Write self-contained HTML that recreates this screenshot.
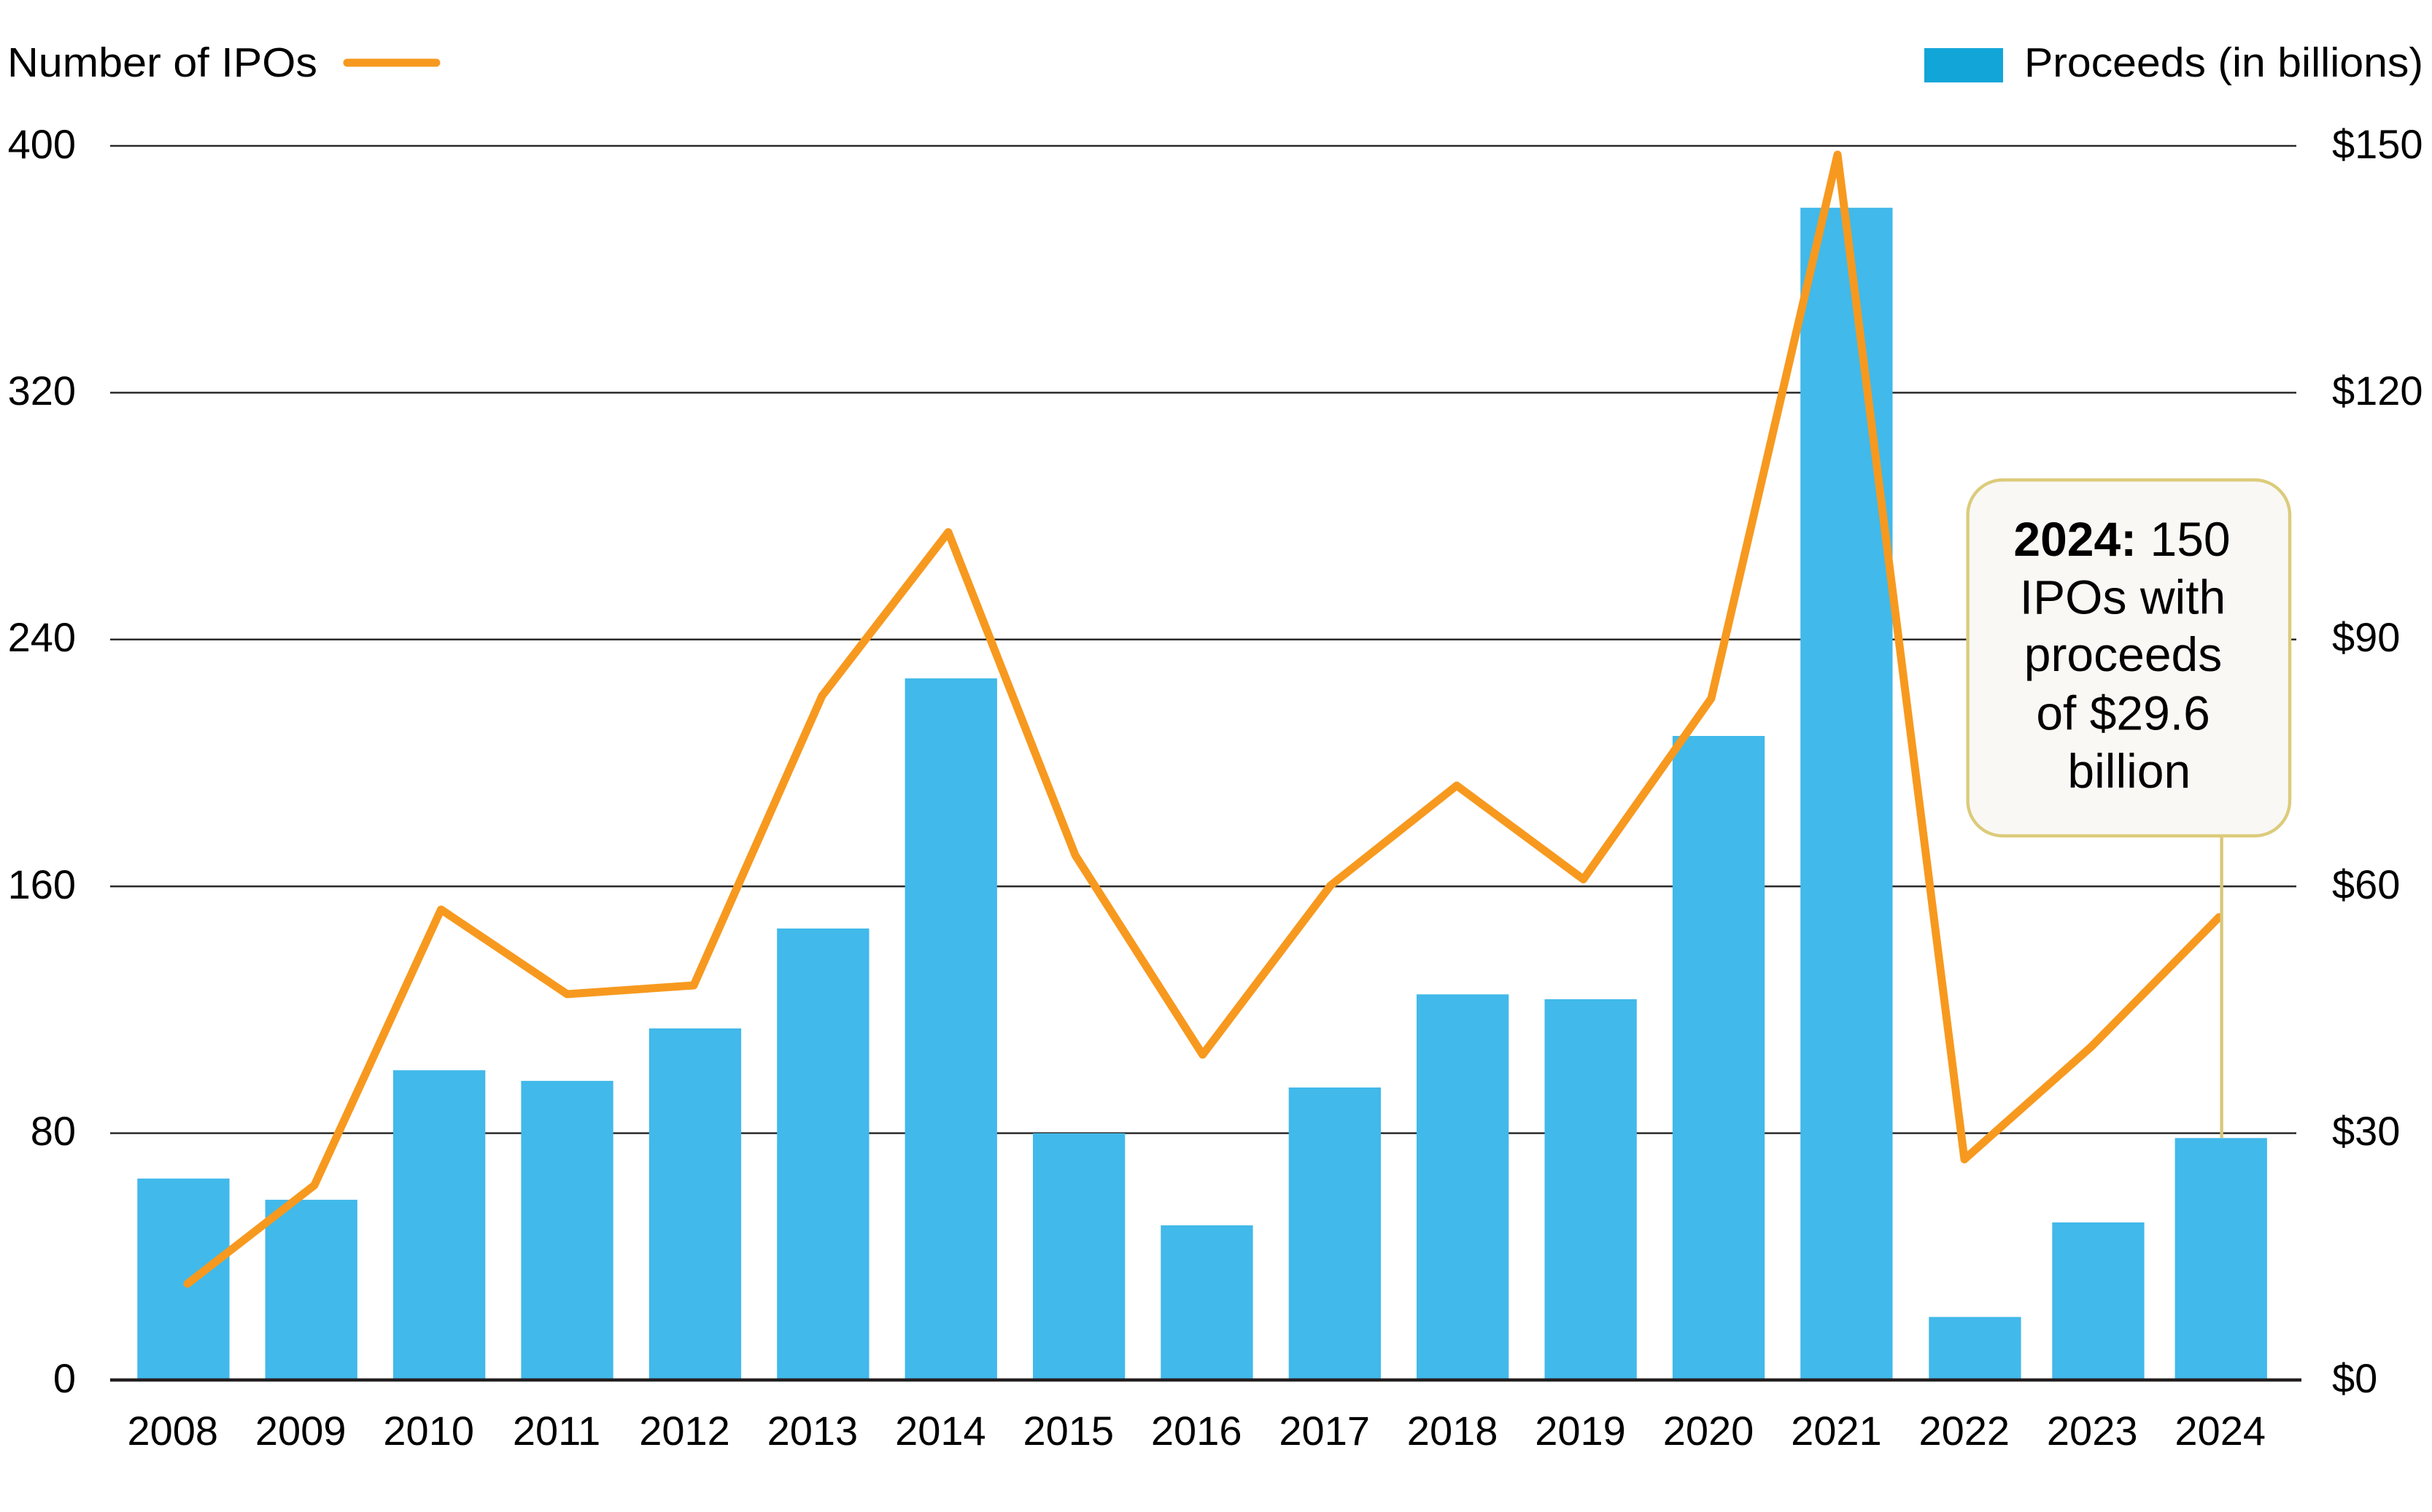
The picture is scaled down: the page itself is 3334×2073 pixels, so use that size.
<!DOCTYPE html>
<html>
<head>
<meta charset="utf-8">
<style>
  html,body{margin:0;padding:0;background:#fff;}
  svg{display:block;}
  text{font-family:"Liberation Sans",sans-serif;fill:#000;}
</style>
</head>
<body>
<svg width="3334" height="2073" viewBox="0 0 3334 2073" xmlns="http://www.w3.org/2000/svg">
  <rect x="0" y="0" width="3334" height="2073" fill="#ffffff"/>

  <!-- Legend -->
  <text x="10" y="105" font-size="57" textLength="425" lengthAdjust="spacingAndGlyphs">Number of IPOs</text>
  <line x1="476" y1="86" x2="598" y2="86" stroke="#f7991f" stroke-width="11" stroke-linecap="round"/>
  <rect x="2638" y="66" width="108" height="47" fill="#12a5d8"/>
  <text x="2775" y="105" font-size="57" textLength="547" lengthAdjust="spacingAndGlyphs">Proceeds (in billions)</text>

  <!-- Gridlines -->
  <g stroke="#2a2a2a" stroke-width="2.5">
    <line x1="151" y1="200" x2="3148" y2="200"/>
    <line x1="151" y1="538.4" x2="3148" y2="538.4"/>
    <line x1="151" y1="876.8" x2="3148" y2="876.8"/>
    <line x1="151" y1="1215.2" x2="3148" y2="1215.2"/>
    <line x1="151" y1="1553.6" x2="3148" y2="1553.6"/>
  </g>

  <!-- Left axis labels -->
  <g font-size="56" text-anchor="end">
    <text x="104" y="217">400</text>
    <text x="104" y="555">320</text>
    <text x="104" y="893">240</text>
    <text x="104" y="1232">160</text>
    <text x="104" y="1570">80</text>
    <text x="104" y="1909">0</text>
  </g>
  <!-- Right axis labels -->
  <g font-size="56" text-anchor="start">
    <text x="3197" y="217">$150</text>
    <text x="3197" y="555">$120</text>
    <text x="3197" y="893">$90</text>
    <text x="3197" y="1232">$60</text>
    <text x="3197" y="1570">$30</text>
    <text x="3197" y="1909">$0</text>
  </g>

  <!-- Bars -->
  <g fill="#41b9ea">
    <rect x="188.3" y="1615.8" width="126.3" height="276.2"/>
    <rect x="363.6" y="1644.9" width="126.3" height="247.1"/>
    <rect x="539.0" y="1467.3" width="126.3" height="424.7"/>
    <rect x="714.4" y="1481.9" width="126.3" height="410.1"/>
    <rect x="889.8" y="1410.0" width="126.3" height="482.0"/>
    <rect x="1065.2" y="1273.0" width="126.3" height="619.0"/>
    <rect x="1240.6" y="930.1" width="126.3" height="961.9"/>
    <rect x="1416.0" y="1553.8" width="126.3" height="338.2"/>
    <rect x="1591.3" y="1680.0" width="126.3" height="212.0"/>
    <rect x="1766.7" y="1491.0" width="126.3" height="401.0"/>
    <rect x="1942.0" y="1363.3" width="126.3" height="528.7"/>
    <rect x="2117.5" y="1370.0" width="126.3" height="522.0"/>
    <rect x="2292.9" y="1009.0" width="126.3" height="883.0"/>
    <rect x="2468.2" y="284.8" width="126.3" height="1607.2"/>
    <rect x="2644.3" y="1805.6" width="126.3" height="86.4"/>
    <rect x="2813.3" y="1676.0" width="126.3" height="216.0"/>
    <rect x="2981.6" y="1560.3" width="126.3" height="331.7"/>
  </g>

  <!-- Baseline -->
  <line x1="151" y1="1892" x2="3155" y2="1892" stroke="#231f20" stroke-width="4.5"/>

  <!-- X labels -->
  <g font-size="56" text-anchor="middle">
    <text x="236.8" y="1981">2008</text>
    <text x="412.2" y="1981">2009</text>
    <text x="587.7" y="1981">2010</text>
    <text x="763.1" y="1981">2011</text>
    <text x="938.5" y="1981">2012</text>
    <text x="1113.9" y="1981">2013</text>
    <text x="1289.4" y="1981">2014</text>
    <text x="1464.8" y="1981">2015</text>
    <text x="1640.2" y="1981">2016</text>
    <text x="1815.7" y="1981">2017</text>
    <text x="1991.1" y="1981">2018</text>
    <text x="2166.5" y="1981">2019</text>
    <text x="2342.0" y="1981">2020</text>
    <text x="2517.4" y="1981">2021</text>
    <text x="2692.8" y="1981">2022</text>
    <text x="2868.2" y="1981">2023</text>
    <text x="3043.7" y="1981">2024</text>
  </g>

  <!-- Number of IPOs line -->
  <polyline fill="none" stroke="#f7991f" stroke-width="11" stroke-linejoin="round" stroke-linecap="round"
    points="257,1760 431,1625 604.6,1247 777.5,1363 951,1351 1127,954 1300,729.6 1474.2,1172.7 1648.7,1446 1824,1214 1997,1077 2170.6,1205.6 2345.9,957.6 2519,212 2693,1589.5 2867,1435 3042,1257.5"/>

  <!-- Annotation connector -->
  <line x1="3045.6" y1="1146" x2="3045.6" y2="1560" stroke="#d9c77a" stroke-width="4.4"/>

  <!-- Annotation box -->
  <rect x="2697.6" y="658" width="441.4" height="488" rx="48" ry="48" fill="#f9f8f5" stroke="#dccb7b" stroke-width="4.4"/>
  <g font-size="66" text-anchor="middle">
    <text x="2909" y="762"><tspan font-weight="bold">2024:</tspan> 150</text>
    <text x="2910" y="841.7">IPOs with</text>
    <text x="2910.5" y="920">proceeds</text>
    <text x="2910.6" y="1000.6">of $29.6</text>
    <text x="2918.8" y="1080">billion</text>
  </g>
</svg>
</body>
</html>
